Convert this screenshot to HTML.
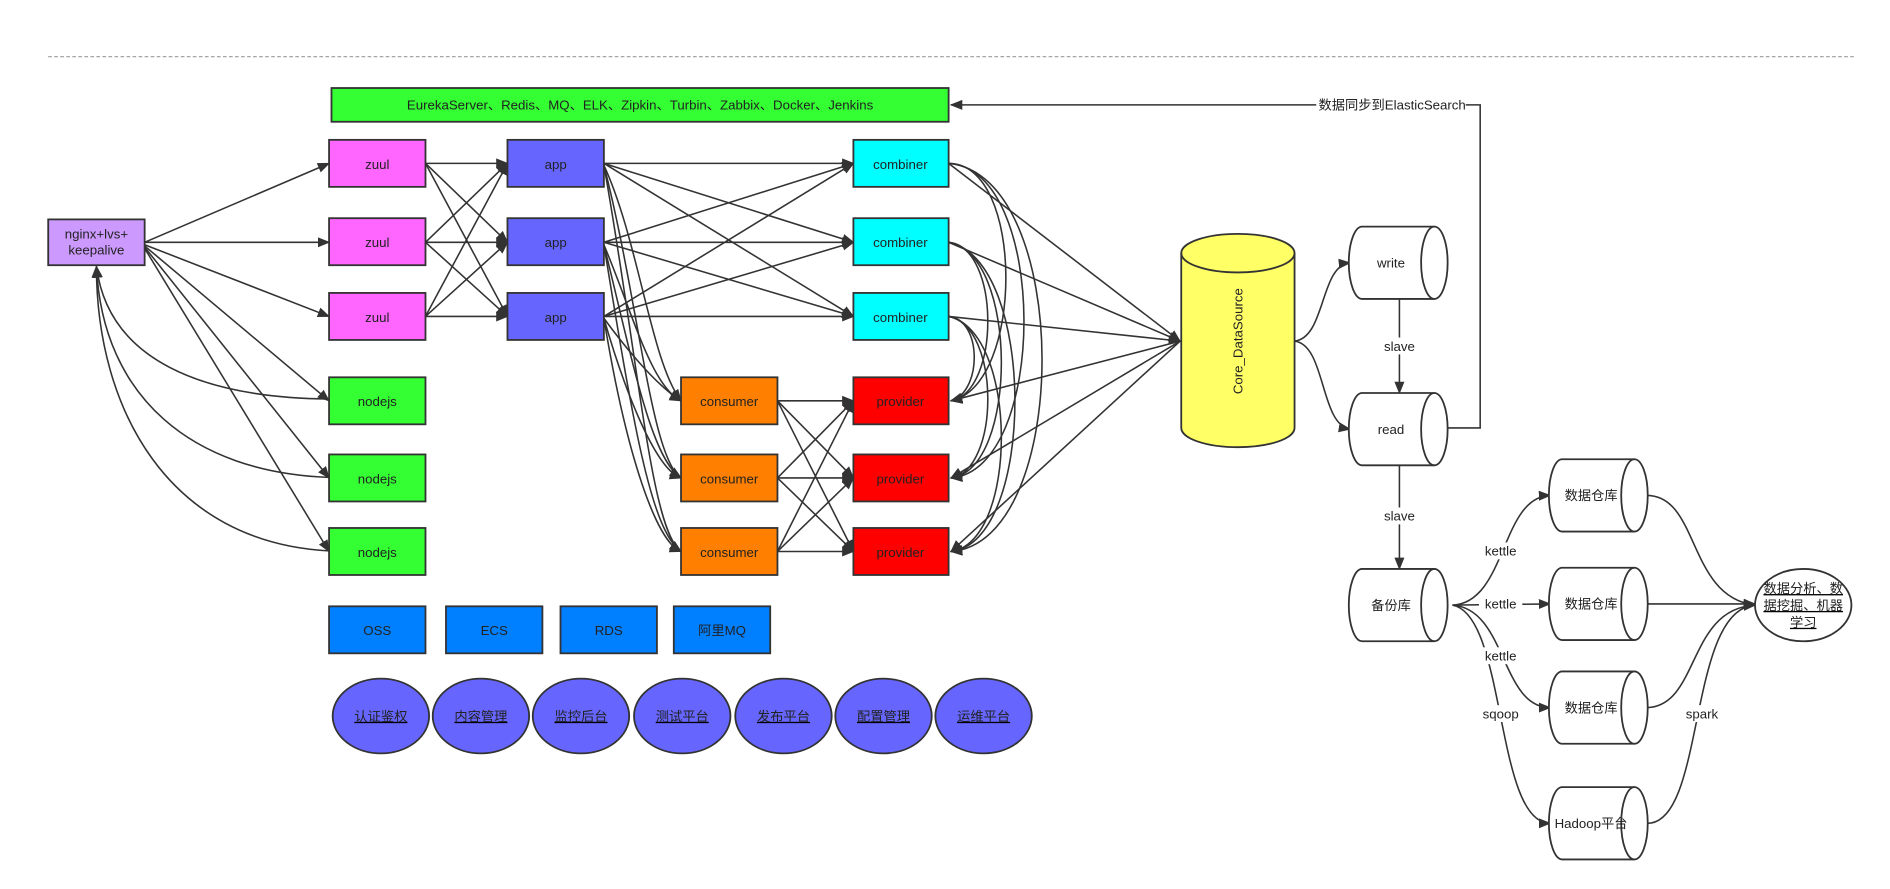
<!DOCTYPE html>
<html><head><meta charset="utf-8"><style>
html,body{margin:0;padding:0;background:#fff;width:1890px;height:889px;overflow:hidden}
svg text{font-family:"Liberation Sans","Noto Sans CJK SC",sans-serif;font-size:11px;fill:#222}
</style></head><body>
<svg width="1890" height="889" viewBox="0 0 1568 737.5" xmlns="http://www.w3.org/2000/svg">
<defs><marker id="a" viewBox="0 0 10 10" refX="9" refY="5" markerWidth="8" markerHeight="8" orient="auto"><path d="M0,1 L10,5 L0,9 Z" fill="#333"/></marker>
<g id="c"><path d="M1130,0 L1190,0 A11,30 0 0 1 1190,60 L1130,60 A11,30 0 0 1 1130,0 Z"/><path d="M1190,0 A11,30 0 0 0 1190,60" fill="none"/></g>
</defs>
<line x1="40" y1="47" x2="1540" y2="47" stroke="#999" stroke-dasharray="3,2" stroke-width="1"/>
<g fill="none" stroke="#333" stroke-width="1.3" marker-end="url(#a)">
<path d="M120,201 L273,135.5"/><path d="M120,201 L273,201"/><path d="M120,203 L273,262.5"/>
<path d="M120,204 L273,332.5"/><path d="M120,205 L273,396.5"/><path d="M120,206 L273,457.5"/>
<path d="M273,331 C170,330 90,300 80,221"/><path d="M273,396 C160,392 85,330 80,221"/><path d="M273,457 C140,450 80,340 80,221"/>
<path d="M353,135.5 L421,135.5"/><path d="M353,135.5 L421,201"/><path d="M353,135.5 L421,262.5"/>
<path d="M353,201 L421,135.5"/><path d="M353,201 L421,201"/><path d="M353,201 L421,262.5"/>
<path d="M353,262.5 L421,135.5"/><path d="M353,262.5 L421,201"/><path d="M353,262.5 L421,262.5"/>
<path d="M501,135.5 L708,135.5"/><path d="M501,135.5 L708,201"/><path d="M501,135.5 L708,262.5"/>
<path d="M501,201 L708,135.5"/><path d="M501,201 L708,201"/><path d="M501,201 L708,262.5"/>
<path d="M501,262.5 L708,135.5"/><path d="M501,262.5 L708,201"/><path d="M501,262.5 L708,262.5"/>
<path d="M501,137 C530,200 540,300 565,332.5"/><path d="M501,137 C530,250 540,380 565,396.5"/><path d="M501,137 C530,300 540,440 565,457.5"/>
<path d="M501,203 C525,260 540,320 565,332.5"/><path d="M501,203 C525,300 540,380 565,396.5"/><path d="M501,203 C525,350 540,440 565,457.5"/>
<path d="M501,264 C520,290 545,320 565,332.5"/><path d="M501,264 C520,330 545,390 565,396.5"/><path d="M501,264 C520,380 545,450 565,457.5"/>
<path d="M645,332.5 L708,332.5"/><path d="M645,332.5 L708,396.5"/><path d="M645,332.5 L708,457.5"/>
<path d="M645,396.5 L708,332.5"/><path d="M645,396.5 L708,396.5"/><path d="M645,396.5 L708,457.5"/>
<path d="M645,457.5 L708,332.5"/><path d="M645,457.5 L708,396.5"/><path d="M645,457.5 L708,457.5"/>
<path d="M787,135.5 L979,283"/><path d="M787,201 L979,283"/><path d="M787,262.5 L979,283"/>
<path d="M979,283 L789,332.5"/><path d="M979,283 L789,396.5"/><path d="M979,283 L789,457.5"/>
<path d="M787,135.5 C850,135 850,320 789,332.5"/><path d="M787,135.5 C870,140 870,390 789,396.5"/><path d="M787,135.5 C890,145 890,450 789,457.5"/>
<path d="M787,201 C830,205 830,325 789,332.5"/><path d="M787,201 C845,210 845,390 789,396.5"/><path d="M787,201 C860,215 860,450 789,457.5"/>
<path d="M787,262.5 C815,265 815,325 789,332.5"/><path d="M787,262.5 C830,270 830,390 789,396.5"/><path d="M787,262.5 C845,275 845,450 789,457.5"/>
<path d="M1074,283 C1100,280 1095,220 1120,218"/><path d="M1074,283 C1100,286 1095,352 1120,356"/>
<path d="M1161,248 L1161,326"/><path d="M1161,386 L1161,472"/>
<path d="M1201,355 L1228,355 L1228,87 L789,87"/>
<path d="M1205,502 C1250,500 1245,412 1286,411"/><path d="M1205,502 L1286,501"/>
<path d="M1205,502 C1250,505 1245,587 1286,587"/><path d="M1205,502 C1250,510 1240,683 1286,683"/>
<path d="M1367,411 C1410,412 1400,495 1456,502"/><path d="M1367,501 L1456,501"/>
<path d="M1367,587 C1410,585 1400,505 1456,502"/><path d="M1367,683 C1415,683 1400,505 1456,502"/>
</g>
<g fill="#fff"><rect x="1092" y="80" width="124" height="14"/><rect x="1146" y="280" width="30" height="14"/><rect x="1146" y="421" width="30" height="14"/>
<rect x="1227" y="450" width="36" height="14"/><rect x="1227" y="494" width="36" height="14"/><rect x="1227" y="537" width="36" height="14"/><rect x="1227" y="585" width="36" height="14"/><rect x="1396" y="585" width="32" height="14"/></g>
<g text-anchor="middle">
<text x="1155" y="91">数据同步到ElasticSearch</text>
<text x="1161" y="291">slave</text><text x="1161" y="432">slave</text>
<text x="1245" y="461">kettle</text><text x="1245" y="505">kettle</text><text x="1245" y="548">kettle</text><text x="1245" y="596">sqoop</text><text x="1412" y="596">spark</text>
</g>
<g stroke="#333" stroke-width="1.5">
<rect x="275" y="73" width="512" height="28" fill="#33FF33"/>
<rect x="40" y="182" width="80" height="38" fill="#CC99FF"/>
<g fill="#FF66FF"><rect x="273" y="116" width="80" height="39"/><rect x="273" y="181" width="80" height="39"/><rect x="273" y="243" width="80" height="39"/></g>
<g fill="#6666FF"><rect x="421" y="116" width="80" height="39"/><rect x="421" y="181" width="80" height="39"/><rect x="421" y="243" width="80" height="39"/></g>
<g fill="#00FFFF"><rect x="708" y="116" width="79" height="39"/><rect x="708" y="181" width="79" height="39"/><rect x="708" y="243" width="79" height="39"/></g>
<g fill="#33FF33"><rect x="273" y="313" width="80" height="39"/><rect x="273" y="377" width="80" height="39"/><rect x="273" y="438" width="80" height="39"/></g>
<g fill="#FF8000"><rect x="565" y="313" width="80" height="39"/><rect x="565" y="377" width="80" height="39"/><rect x="565" y="438" width="80" height="39"/></g>
<g fill="#FF0000"><rect x="708" y="313" width="79" height="39"/><rect x="708" y="377" width="79" height="39"/><rect x="708" y="438" width="79" height="39"/></g>
<g fill="#007FFF"><rect x="273" y="503" width="80" height="39"/><rect x="370" y="503" width="80" height="39"/><rect x="465" y="503" width="80" height="39"/><rect x="559" y="503" width="80" height="39"/></g>
<g fill="#6666FF"><ellipse cx="316" cy="594" rx="40" ry="31"/><ellipse cx="399" cy="594" rx="40" ry="31"/><ellipse cx="482" cy="594" rx="40" ry="31"/><ellipse cx="566" cy="594" rx="40" ry="31"/><ellipse cx="650" cy="594" rx="40" ry="31"/><ellipse cx="733" cy="594" rx="40" ry="31"/><ellipse cx="816" cy="594" rx="40" ry="31"/></g>
<path d="M980,210 L980,355 A47,16 0 0 0 1074,355 L1074,210 A47,16 0 0 0 980,210 Z" fill="#FFFF66"/>
<path d="M980,210 A47,16 0 0 0 1074,210" fill="none"/>
<ellipse cx="1496" cy="502" rx="40" ry="30" fill="#fff"/>
</g>
<g stroke="#333" stroke-width="1.5" fill="#fff">
<use href="#c" y="188"/><use href="#c" y="326"/><use href="#c" y="472"/>
<use href="#c" x="166" y="381"/><use href="#c" x="166" y="471"/><use href="#c" x="166" y="557"/><use href="#c" x="166" y="653"/>
</g>
<g text-anchor="middle">
<text x="531" y="91">EurekaServer、Redis、MQ、ELK、Zipkin、Turbin、Zabbix、Docker、Jenkins</text>
<text x="80" y="198">nginx+lvs+</text><text x="80" y="211">keepalive</text>
<text x="313" y="140">zuul</text><text x="313" y="205">zuul</text><text x="313" y="267">zuul</text>
<text x="461" y="140">app</text><text x="461" y="205">app</text><text x="461" y="267">app</text>
<text x="747" y="140">combiner</text><text x="747" y="205">combiner</text><text x="747" y="267">combiner</text>
<text x="313" y="337">nodejs</text><text x="313" y="401">nodejs</text><text x="313" y="462">nodejs</text>
<text x="605" y="337">consumer</text><text x="605" y="401">consumer</text><text x="605" y="462">consumer</text>
<text x="747" y="337">provider</text><text x="747" y="401">provider</text><text x="747" y="462">provider</text>
<text x="313" y="527">OSS</text><text x="410" y="527">ECS</text><text x="505" y="527">RDS</text><text x="599" y="527">阿里MQ</text>
<g text-decoration="underline"><text x="316" y="598">认证鉴权</text><text x="399" y="598">内容管理</text><text x="482" y="598">监控后台</text><text x="566" y="598">测试平台</text><text x="650" y="598">发布平台</text><text x="733" y="598">配置管理</text><text x="816" y="598">运维平台</text>
<text x="1496" y="492">数据分析、数</text><text x="1496" y="506">据挖掘、机器</text><text x="1496" y="520">学习</text></g>
<text transform="translate(1031,283) rotate(-90)">Core_DataSource</text>
<text x="1154" y="222">write</text><text x="1154" y="360">read</text><text x="1154" y="506">备份库</text>
<text x="1320" y="415">数据仓库</text><text x="1320" y="505">数据仓库</text><text x="1320" y="591">数据仓库</text><text x="1320" y="687">Hadoop平台</text>
</g>
</svg>
</body></html>
